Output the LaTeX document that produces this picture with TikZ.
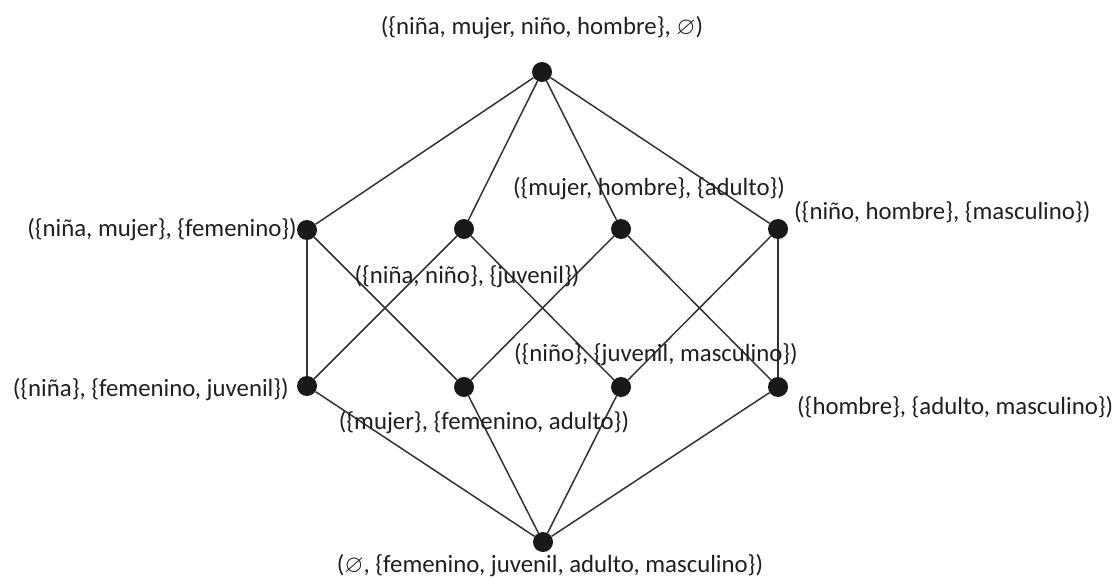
\documentclass[tikz,border=0pt]{standalone}
\usepackage{amssymb}
\usepackage{fontspec}
\setmainfont{Carlito}
\begin{document}
\begin{tikzpicture}[x=1pt,y=-1pt,
  dot/.style={circle,fill=black!90,inner sep=0pt,minimum size=20pt},
  lbl/.style={font=\fontsize{24.8}{30}\selectfont,inner sep=0pt,text=black!88},
  edge/.style={draw=black!80,line width=1.5pt}]
\useasboundingbox (0,0) rectangle (1119,578);
% nodes
\node[dot] (t) at (542,72) {};
\node[dot] (a1) at (307,230) {};
\node[dot] (a2) at (464,229) {};
\node[dot] (a3) at (621,229) {};
\node[dot] (a4) at (778,229) {};
\node[dot] (b1) at (307,386) {};
\node[dot] (b2) at (464,387) {};
\node[dot] (b3) at (621,387) {};
\node[dot] (b4) at (778,387) {};
\node[dot] (z) at (543,542) {};
% edges
\foreach \n in {a1,a2,a3,a4} \draw[edge] (t) -- (\n);
\foreach \n in {b1,b2,b3,b4} \draw[edge] (z) -- (\n);
\draw[edge] (a1) -- (b1);
\draw[edge] (a1) -- (b2);
\draw[edge] (a2) -- (b1);
\draw[edge] (a2) -- (b3);
\draw[edge] (a3) -- (b2);
\draw[edge] (a3) -- (b4);
\draw[edge] (a4) -- (b3);
\draw[edge] (a4) -- (b4);
% labels
\node[lbl] (lt) at (542,28) {(\{niña, mujer, niño, hombre\}, $\varnothing$)};
\node[lbl,anchor=east] (la1) at (297,230) {(\{niña, mujer\}, \{femenino\})};
\node[lbl] (la2) at (467,277) {(\{niña, niño\}, \{juvenil\})};
\node[lbl] (la3) at (649,189) {(\{mujer, hombre\}, \{adulto\})};
\node[lbl,anchor=west] (la4) at (794,212) {(\{niño, hombre\}, \{masculino\})};
\node[lbl,anchor=east] (lb1) at (289,390) {(\{niña\}, \{femenino, juvenil\})};
\node[lbl] (lb2) at (484,423) {(\{mujer\}, \{femenino, adulto\})};
\node[lbl] (lb3) at (656,355) {(\{niño\}, \{juvenil, masculino\})};
\node[lbl,anchor=west] (lb4) at (797,407) {(\{hombre\}, \{adulto, masculino\})};
\node[lbl] (lz) at (550,566) {($\varnothing$, \{femenino, juvenil, adulto, masculino\})};
\end{tikzpicture}
\end{document}
